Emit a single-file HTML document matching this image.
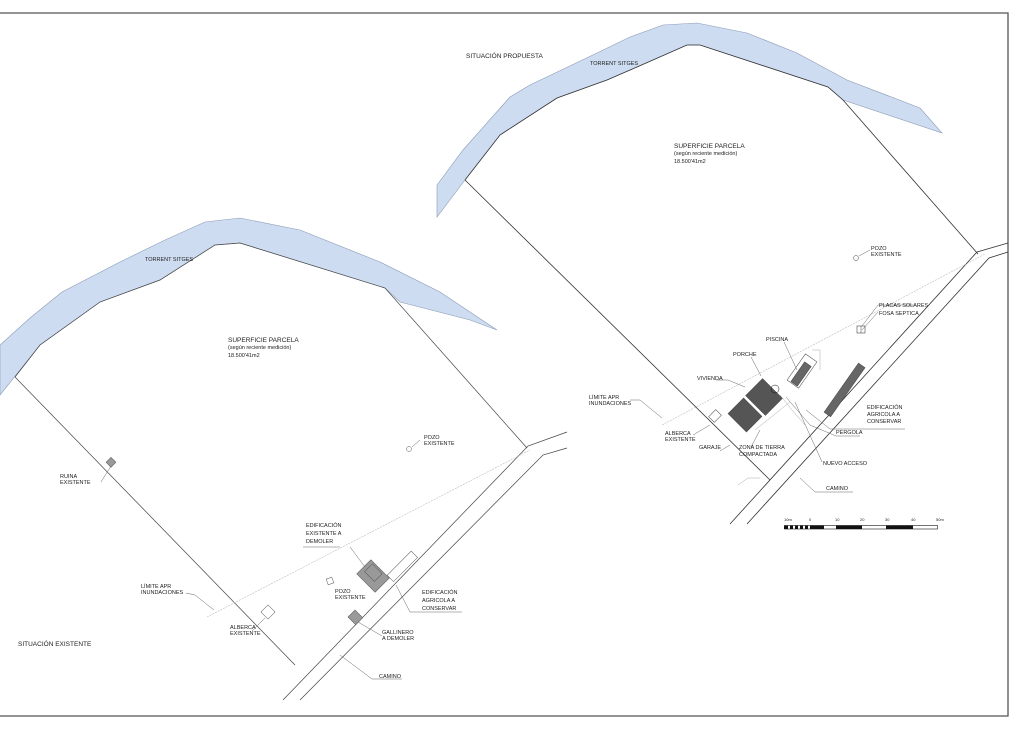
<!DOCTYPE html>
<html><head><meta charset="utf-8"><style>
html,body{margin:0;padding:0;background:#fff;}
svg{display:block;}
text{font-family:"Liberation Sans",sans-serif;font-size:5.5px;fill:#222;}
.big{font-size:6.5px;}
</style></head><body>
<svg width="1024" height="734" viewBox="0 0 1024 734" xmlns="http://www.w3.org/2000/svg">
<rect x="0" y="0" width="1024" height="734" fill="#fff"/>
<polyline points="0,13 1008,13 1008,716 0,716" fill="none" stroke="#555" stroke-width="1.3"/>

<!-- LEFT DRAWING -->
<path d="M0,345 L30,318 L62,292 L120,262 L165,240 L205,222 L240,218 L300,230 L380,262 L440,292 L497,330 L470,320 L400,302 L385,288 L240,243 L215,245 L160,280 L100,302 L40,345 L0,395 Z" fill="#cddcf0" stroke="#8a9bb5" stroke-width="0.6"/>
<g stroke="#444" stroke-width="0.7" fill="none">
<polyline points="15,377 40,345 100,302 160,280 215,245 240,243 385,288 527,448"/>
<line x1="15" y1="377" x2="295" y2="665"/>
<polyline points="283,700 528,446 567,432"/>
<polyline points="300,700 543,455 567,448"/>
</g>
<line x1="207" y1="617" x2="530" y2="450" stroke="#bbb" stroke-width="0.6" stroke-dasharray="2,1"/>
<g stroke="#555" stroke-width="0.5">
<rect x="107" y="459" width="7" height="7" fill="#999" transform="rotate(45 111 463)"/>
<rect x="263" y="607" width="10" height="10" fill="#fff" transform="rotate(-45 268 612)"/>
<circle cx="409" cy="449" r="2.5" fill="#fff"/>
<rect x="363" y="563" width="20" height="26" fill="#999" transform="rotate(-45 373 576)"/>
<rect x="368" y="566" width="11" height="14" fill="none" transform="rotate(-45 373 573)"/>
<rect x="385" y="562" width="34" height="9" fill="#fff" transform="rotate(-45 402 566)"/>
<rect x="327" y="578" width="6" height="6" fill="#fff" transform="rotate(-20 330 581)"/>
<rect x="350" y="612" width="10" height="11" fill="#999" transform="rotate(-45 355 617)"/>
</g>
<g stroke="#666" stroke-width="0.5" fill="none">
<polyline points="101,482 111,466"/>
<polyline points="186,593 195,595 214,610"/>
<polyline points="252,631 265,618"/>
<polyline points="412,447 420,440"/>
<polyline points="350,547 365,567"/>
<polyline points="303,547 340,547"/>
<polyline points="396,585 410,612 462,612"/>
<polyline points="358,622 382,636"/>
<polyline points="340,655 372,679 402,679"/>
</g>
<text x="145" y="261">TORRENT SITGES</text>
<text class="big" x="228" y="342">SUPERFICIE PARCELA</text>
<text x="228" y="349">(según reciente medición)</text>
<text x="228" y="357">18.500'41m2</text>
<text x="424" y="439">POZO</text><text x="424" y="445">EXISTENTE</text>
<text x="60" y="478">RUINA</text><text x="60" y="484">EXISTENTE</text>
<text x="141" y="588">LÍMITE APR</text><text x="141" y="594">INUNDACIONES</text>
<text x="230" y="629">ALBERCA</text><text x="230" y="635">EXISTENTE</text>
<text x="335" y="593">POZO</text><text x="335" y="599">EXISTENTE</text>
<text x="306" y="527">EDIFICACIÓN</text><text x="306" y="535">EXISTENTE A</text><text x="306" y="543">DEMOLER</text>
<text x="422" y="594">EDIFICACIÓN</text><text x="422" y="602">AGRICOLA A</text><text x="422" y="610">CONSERVAR</text>
<text x="382" y="634">GALLINERO</text><text x="382" y="640">A DEMOLER</text>
<text x="379" y="678">CAMINO</text>
<text class="big" x="18" y="646">SITUACIÓN EXISTENTE</text>

<!-- RIGHT DRAWING -->
<path d="M437,185 L463,150 L510,97 L530,85 L597,53 L630,37 L663,25 L697,23 L747,33 L797,53 L847,80 L920,108 L942,133 L843,100 L828,87 L700,45 L687,45 L637,67 L607,80 L557,98 L500,135 L465,180 L437,217 Z" fill="#cddcf0" stroke="#8a9bb5" stroke-width="0.6"/>
<g stroke="#333" stroke-width="0.8" fill="none">
<polyline points="465,180 500,135 557,98 607,80 637,67 687,45 700,45 828,87 843,100 978,254"/>
<line x1="465" y1="180" x2="770" y2="480"/>
<polyline points="730,524 977,252 1008,243"/>
<polyline points="747,524 989,258 1008,252"/>
</g>
<line x1="662" y1="425" x2="985" y2="254" stroke="#bbb" stroke-width="0.6" stroke-dasharray="2,1"/>
<g stroke="#444" stroke-width="0.5">
<circle cx="856" cy="258" r="2.5" fill="#fff"/>
<rect x="857" y="326" width="8" height="7" fill="#fff" stroke="#222"/>
<line x1="861" y1="326" x2="861" y2="333"/>
<rect x="752" y="383" width="24" height="28" fill="#555" transform="rotate(-45 764 397)"/>
<rect x="734" y="402" width="22" height="26" fill="#555" transform="rotate(-45 745 415)"/>
<rect x="789" y="370" width="24" height="8" fill="#666" transform="rotate(-55 801 374)"/>
<rect x="786" y="364" width="32" height="14" fill="none" transform="rotate(-55 802 371)"/>
<rect x="812" y="381" width="60" height="8" fill="#666" transform="rotate(-55 848 385)"/>
<rect x="710" y="412" width="10" height="8" fill="#fff" transform="rotate(-45 715 416)"/>
<circle cx="775" cy="389" r="4" fill="none" stroke="#111"/>
</g>
<g stroke="#aaa" stroke-width="0.5" fill="none">
<polyline points="780,395 792,410 805,425"/>
<polyline points="755,430 770,418 790,402"/>
<polyline points="738,485 748,478 760,478"/>
<polyline points="812,350 820,350 820,370"/>
</g>
<g stroke="#666" stroke-width="0.5" fill="none">
<polyline points="859,256 870,250"/>
<polyline points="862,326 878,305 914,305"/>
<polyline points="862,330 878,312"/>
<polyline points="784,342 797,370"/>
<polyline points="751,357 761,376"/>
<polyline points="716,380 728,380 745,387"/>
<polyline points="630,400 640,400 662,418"/>
<polyline points="693,435 710,425"/>
<polyline points="720,451 730,445"/>
<polyline points="751,447 760,430"/>
<polyline points="786,397 810,425 836,436 860,436"/>
<polyline points="795,402 822,462"/>
<polyline points="806,410 830,429 865,429 905,429"/>
<polyline points="800,478 815,492 853,492"/>
</g>
<text class="big" x="466" y="58">SITUACIÓN PROPUESTA</text>
<text x="590" y="65">TORRENT SITGES</text>
<text class="big" x="674" y="148">SUPERFICIE PARCELA</text>
<text x="674" y="155">(según reciente medición)</text>
<text x="674" y="163">18.500'41m2</text>
<text x="871" y="250">POZO</text><text x="871" y="256">EXISTENTE</text>
<text x="879" y="307">PLACAS SOLARES</text>
<text x="879" y="315">FOSA SEPTICA</text>
<text x="766" y="341">PISCINA</text>
<text x="733" y="356">PORCHE</text>
<text x="697" y="380">VIVIENDA</text>
<text x="589" y="399">LÍMITE APR</text><text x="589" y="405">INUNDACIONES</text>
<text x="665" y="435">ALBERCA</text><text x="665" y="441">EXISTENTE</text>
<text x="699" y="449">GARAJE</text>
<text x="739" y="449">ZONA DE TIERRA</text><text x="739" y="456">COMPACTADA</text>
<text x="836" y="434">PERGOLA</text>
<text x="867" y="409">EDIFICACIÓN</text><text x="867" y="416">AGRICOLA A</text><text x="867" y="423">CONSERVAR</text>
<text x="823" y="465">NUEVO ACCESO</text>
<text x="826" y="490">CAMINO</text>

<text x="784" y="521" style="font-size:4px">10m</text>
<text x="809" y="521" style="font-size:4px">0</text>
<text x="835" y="521" style="font-size:4px">10</text>
<text x="860" y="521" style="font-size:4px">20</text>
<text x="885" y="521" style="font-size:4px">30</text>
<text x="911" y="521" style="font-size:4px">40</text>
<text x="936" y="521" style="font-size:4px">50m</text>
<rect x="784.5" y="525.5" width="153" height="3.5" fill="#fff" stroke="#111" stroke-width="0.6"/>
<rect x="784" y="525.5" width="4" height="3.5" fill="#111"/>
<rect x="790" y="525.5" width="3" height="3.5" fill="#111"/>
<rect x="795" y="525.5" width="3" height="3.5" fill="#111"/>
<rect x="800" y="525.5" width="3" height="3.5" fill="#111"/>
<rect x="805" y="525.5" width="3" height="3.5" fill="#111"/>
<rect x="810" y="525.5" width="14" height="3.5" fill="#111"/>
<rect x="836" y="525.5" width="26" height="3.5" fill="#111"/>
<rect x="886" y="525.5" width="27" height="3.5" fill="#111"/>
</svg>
</body></html>
